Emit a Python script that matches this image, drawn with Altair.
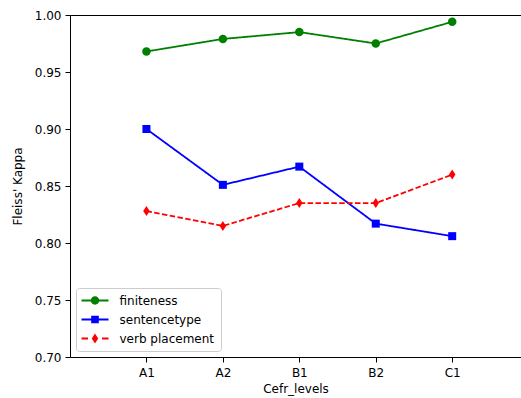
import json
import altair as alt
import pandas as pd

# ---- data ----
levels = ["A1", "A2", "B1", "B2", "C1"]
finiteness = [0.968, 0.979, 0.985, 0.975, 0.994]
sentencetype = [0.900, 0.851, 0.867, 0.817, 0.806]
verb_placement = [0.828, 0.815, 0.835, 0.835, 0.860]

series_names = ["finiteness", "sentencetype", "verb placement"]
series_values = [finiteness, sentencetype, verb_placement]
y_ticks = [0.70, 0.75, 0.80, 0.85, 0.90, 0.95, 1.00]

# ---- styles ----
series_colors = ["#008000", "#0000ff", "#ff0000"]
series_dashes = [[1, 0], [1, 0], [5.5, 2.4]]
marker_paths = [
    "circle",
    "square",
    "M0,-1L0.65,0L0,1L-0.65,0Z",
]
marker_sizes = [72, 64, 100]
# legend glyphs: line segment (thin filled bar) + marker, in symbol units (1 unit = 4.5 px)
legend_paths = [
    "M-1.556,-0.2H4.444V0.2H-1.556Z "
    "M0.514,0A0.93,0.93 0 1,1 2.374,0A0.93,0.93 0 1,1 0.514,0Z",
    "M-1.556,-0.2H4.444V0.2H-1.556Z M0.594,-0.85H2.294V0.85H0.594Z",
    "M-1.556,-0.2H-0.111V0.2H-1.556Z M3.0,-0.2H4.444V0.2H3.0Z "
    "M1.444,-1.1L2.164,0L1.444,1.1L0.724,0Z",
]
FONT = "DejaVu Sans"

rows = []
for name, vals in zip(series_names, series_values):
    for i, (lvl, v) in enumerate(zip(levels, vals)):
        rows.append({"series": name, "level": lvl, "pos": i + 1, "kappa": v})
df = pd.DataFrame(rows)

label_expr = json.dumps([""] + levels) + "[datum.value]"

x_scale = alt.Scale(domain=[0, 5.9], nice=False, zero=False)
y_scale = alt.Scale(domain=[0.70, 1.00], nice=False, zero=False)

x_bottom = alt.X(
    "pos:Q",
    scale=x_scale,
    axis=alt.Axis(
        orient="bottom",
        values=list(range(1, len(levels) + 1)),
        labelExpr=label_expr,
        title="Cefr_levels",
        grid=False,
        tickSize=5,
        labelPadding=5,
        titlePadding=5,
    ),
)
y_left = alt.Y(
    "kappa:Q",
    scale=y_scale,
    axis=alt.Axis(
        values=y_ticks,
        format=".2f",
        title="Fleiss' Kappa",
        grid=False,
        tickSize=5,
        labelPadding=4,
        titlePadding=10,
    ),
)
x_none = alt.X("pos:Q", scale=x_scale, axis=None)
y_plain = alt.Y("kappa:Q", scale=y_scale)

base = alt.Chart(df)

layers = []
for k, (name, col, dash, shp, sz) in enumerate(
    zip(series_names, series_colors, series_dashes, marker_paths, marker_sizes)
):
    sub = base.transform_filter(alt.datum.series == name)
    layers.append(
        sub.mark_line(strokeWidth=1.8, color=col, strokeDash=dash).encode(
            x=x_bottom if k == 0 else x_none, y=y_left if k == 0 else y_plain
        )
    )
    layers.append(
        sub.mark_point(filled=True, opacity=1, shape=shp, size=sz, color=col).encode(
            x=x_none, y=y_plain
        )
    )

# invisible layer that carries the legend (and the top spine)
color_scale = alt.Scale(domain=series_names, range=series_colors)
legend_layer = base.mark_point(filled=True, opacity=0).encode(
    x=alt.X(
        "pos:Q",
        scale=x_scale,
        axis=alt.Axis(orient="top", labels=False, ticks=False, title=None, grid=False),
    ),
    y=y_plain,
    color=alt.Color(
        "series:N", scale=color_scale, legend=alt.Legend(title=None, symbolOpacity=1)
    ),
    shape=alt.Shape(
        "series:N",
        scale=alt.Scale(domain=series_names, range=legend_paths),
        legend=alt.Legend(title=None, symbolOpacity=1),
    ),
)
layers.append(legend_layer)

chart = (
    alt.layer(*layers)
    .resolve_axis(x="independent")
    .properties(
        width=451,
        height=342,
        autosize=alt.AutoSizeParams(type="none"),
        padding={"left": 70, "top": 15, "right": 0, "bottom": 41},
    )
    .configure_view(stroke=None)
    .configure_axis(
        labelFont=FONT,
        labelFontSize=12,
        labelColor="#000000",
        titleFont=FONT,
        titleFontSize=12,
        titleFontWeight="normal",
        titleColor="#000000",
        domainColor="#000000",
        domainWidth=1,
        tickColor="#000000",
        tickWidth=1,
    )
    .configure_legend(
        orient="bottom-left",
        offset=6,
        labelFont=FONT,
        labelFontSize=12,
        labelColor="#000000",
        symbolSize=81,
        symbolOpacity=1,
        symbolStrokeWidth=0,
        labelOffset=25,
        rowPadding=7,
        padding=6.5,
        strokeColor="#cccccc",
        fillColor="#ffffff",
        cornerRadius=3,
    )
)

chart.save("out.html", embed_options={"renderer": "svg", "actions": False})
